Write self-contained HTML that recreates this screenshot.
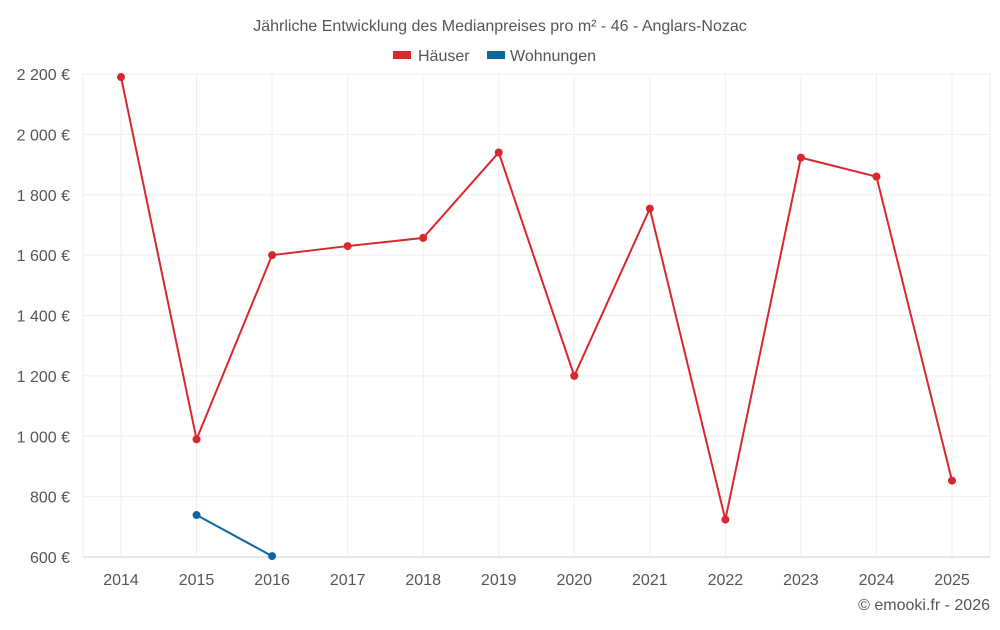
<!DOCTYPE html>
<html><head><meta charset="utf-8"><style>
body{margin:0;background:#fff;font-family:"Liberation Sans",sans-serif;}
svg text{font-family:"Liberation Sans",sans-serif;}
</style></head><body>
<svg id="chart" width="1000" height="625">
<text x="500" y="31" text-anchor="middle" font-size="16" fill="#555">Jährliche Entwicklung des Medianpreises pro m² - 46 - Anglars-Nozac</text>
<g>
<g><rect x="393" y="51" width="18" height="8" fill="#d9272e"/><text x="418" y="61" font-size="16" fill="#555">Häuser</text></g>
<g><rect x="487" y="51" width="18" height="8" fill="#0e66a0"/><text x="510" y="61" font-size="16" fill="#555">Wohnungen</text></g>
</g>
<g id="grid"></g>
<g id="axes"></g>
<g id="series"></g>
<text x="990" y="610" text-anchor="end" font-size="16" fill="#555">© emooki.fr - 2026</text>
</svg>
<script>
const years = [2014,2015,2016,2017,2018,2019,2020,2021,2022,2023,2024,2025];
const haeuser = [2190,990,1600,1630,1657,1940,1200,1754,724,1923,1860,853];
const wohnungen = [null,739,603,null,null,null,null,null,null,null,null,null];
const yTicks = [600,800,1000,1200,1400,1600,1800,2000,2200];
const yLabels = ["600 €","800 €","1 000 €","1 200 €","1 400 €","1 600 €","1 800 €","2 000 €","2 200 €"];
const NS="http://www.w3.org/2000/svg";
const L=83,R=990,T=74,B=557;
function x(i){return 121+i*(952-121)/(years.length-1);}
function y(v){return B-(v-600)*(B-T)/1600;}
function mk(tag,attrs,parent){const e=document.createElementNS(NS,tag);for(const k in attrs)e.setAttribute(k,attrs[k]);parent.appendChild(e);return e;}
const grid=document.getElementById('grid'),axes=document.getElementById('axes'),ser=document.getElementById('series');
yTicks.forEach((v,i)=>{
 const l=mk('line',{x1:L,x2:R,y1:y(v),y2:y(v),stroke:i==0?'#ccc':'#eee','stroke-width':1},grid);
 
 
 const t=mk('text',{x:70,y:y(v)+6,'text-anchor':'end','font-size':16,fill:'#555'},axes);
 t.textContent=yLabels[i];
 
 
});
[L,R].forEach(px=>{
 const l=mk('line',{x1:px,x2:px,y1:T,y2:B,stroke:'#eee','stroke-width':1},grid);
 
 
});
years.forEach((yr,i)=>{
 const l=mk('line',{x1:x(i),x2:x(i),y1:T,y2:B,stroke:'#eee'},grid);
 
 
 const t=mk('text',{x:x(i),y:585,'text-anchor':'middle','font-size':16,fill:'#555'},axes);
 t.textContent=yr;
 
 
});
function draw(data,color,name){
 let d='';data.forEach((v,i)=>{if(v==null)return;d+=(d?'L':'M')+x(i)+' '+y(v);});
 const p=mk('path',{d:d,fill:'none',stroke:color,'stroke-width':2},ser);
 
 
 data.forEach((v,i)=>{if(v==null)return;
  const c=mk('circle',{cx:x(i),cy:y(v),r:4,fill:color},ser);
  
  
 });
}
draw(haeuser,'#d9272e','haeuser');
draw(wohnungen,'#0e66a0','wohnungen');
</script>
</body></html>
